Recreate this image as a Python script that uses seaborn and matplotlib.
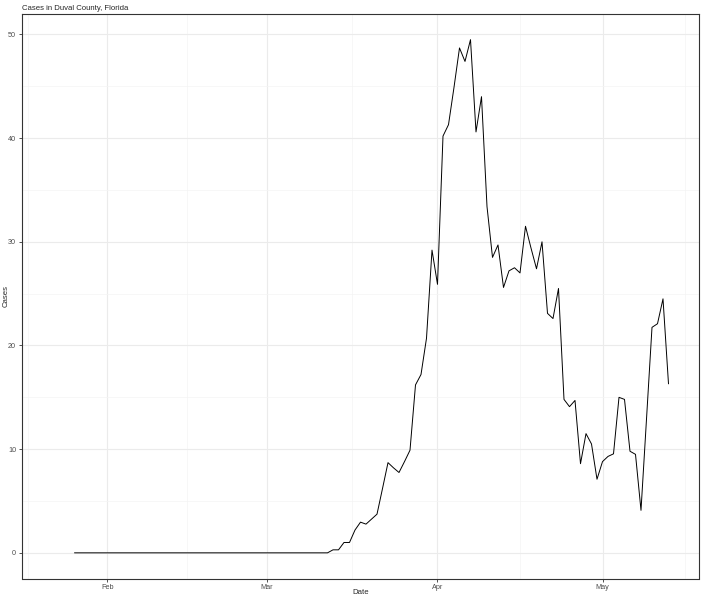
import numpy as np
import pandas as pd
import seaborn as sns
import matplotlib.pyplot as plt
import matplotlib.dates as mdates
from matplotlib.ticker import FixedLocator, MultipleLocator

# Daily cases (7-day average), Duval County
first_date = '2020-01-22'   # first row of the data (no values for the first days)
n_missing = 4
zero_days = 47              # Jan 26 .. Mar 12
cases_tail = [0.29, 0.29, 1.0, 1.0, 2.2, 2.96, 2.77, 3.25, 3.73, 6.2, 8.7, 8.2, 7.75,
              8.8, 9.9, 16.2, 17.2, 20.7, 29.2,
              25.9, 40.2, 41.3, 44.9, 48.7, 47.4, 49.5, 40.6, 44.0, 33.4, 28.5, 29.7,
              25.6, 27.2, 27.5, 27.0, 31.5, 29.4, 27.4, 30.0, 23.1, 22.6, 25.5, 14.8,
              14.1, 14.7, 8.6, 11.5, 10.5, 7.1,
              8.8, 9.3, 9.55, 15.0, 14.8, 9.8, 9.5, 4.1, 12.9, 21.75, 22.1, 24.5, 16.3]

cases = [np.nan] * n_missing + [0.0] * zero_days + cases_tail
dates = pd.date_range(first_date, periods=len(cases), freq='D')
df = pd.DataFrame({'Date': dates, 'Cases': cases})

sns.set_theme(style='white')
plt.rcParams['font.family'] = ['Liberation Sans', 'DejaVu Sans']

fig, ax = plt.subplots(figsize=(7.03, 6.0), dpi=100)
fig.subplots_adjust(left=21.7 / 703, right=699.3 / 703, bottom=1 - 578.5 / 600, top=1 - 14 / 600)

sns.lineplot(data=df.dropna(), x='Date', y='Cases', color='black', linewidth=0.7, ax=ax)

# ggplot-like expansion (5%)
x0, x1 = mdates.date2num(dates[0]), mdates.date2num(dates[-1])
pad = 0.05 * (x1 - x0)
ax.set_xlim(x0 - pad, x1 + pad)
ymax = np.nanmax(cases)
ax.set_ylim(-0.05 * ymax, ymax * 1.05)

ax.xaxis.set_major_locator(mdates.MonthLocator())
ax.xaxis.set_major_formatter(mdates.DateFormatter('%b'))
minor_x = pd.to_datetime(['2020-01-17 12:00', '2020-02-15 12:00', '2020-03-16 12:00',
                          '2020-04-16 00:00', '2020-05-16 00:00'])
ax.xaxis.set_minor_locator(FixedLocator(mdates.date2num(minor_x)))
ax.yaxis.set_major_locator(MultipleLocator(10))
ax.yaxis.set_minor_locator(MultipleLocator(5))

ax.grid(which='major', color='#EBEBEB', linewidth=0.8)
ax.grid(which='minor', color='#F4F4F4', linewidth=0.5)
ax.set_axisbelow(True)
for s in ax.spines.values():
    s.set_color('#333333')
    s.set_linewidth(0.8)

ax.tick_params(which='major', length=2.2, width=0.6, color='#333333',
               labelsize=5.2, labelcolor='#4D4D4D', pad=1.8)
ax.tick_params(which='minor', length=0)
ax.tick_params(axis='x', bottom=True)
ax.tick_params(axis='y', left=True)

ax.set_xlabel('Date', fontsize=5.6)
ax.set_ylabel('Cases', fontsize=5.6)
ax.xaxis.set_label_coords(0.5, -0.019)
ax.yaxis.set_label_coords(-0.0175, 0.5)
ax.set_title('Cases in Duval County, Florida', fontsize=5.6, loc='left', pad=2.8)

plt.savefig('out.png', dpi=100)
